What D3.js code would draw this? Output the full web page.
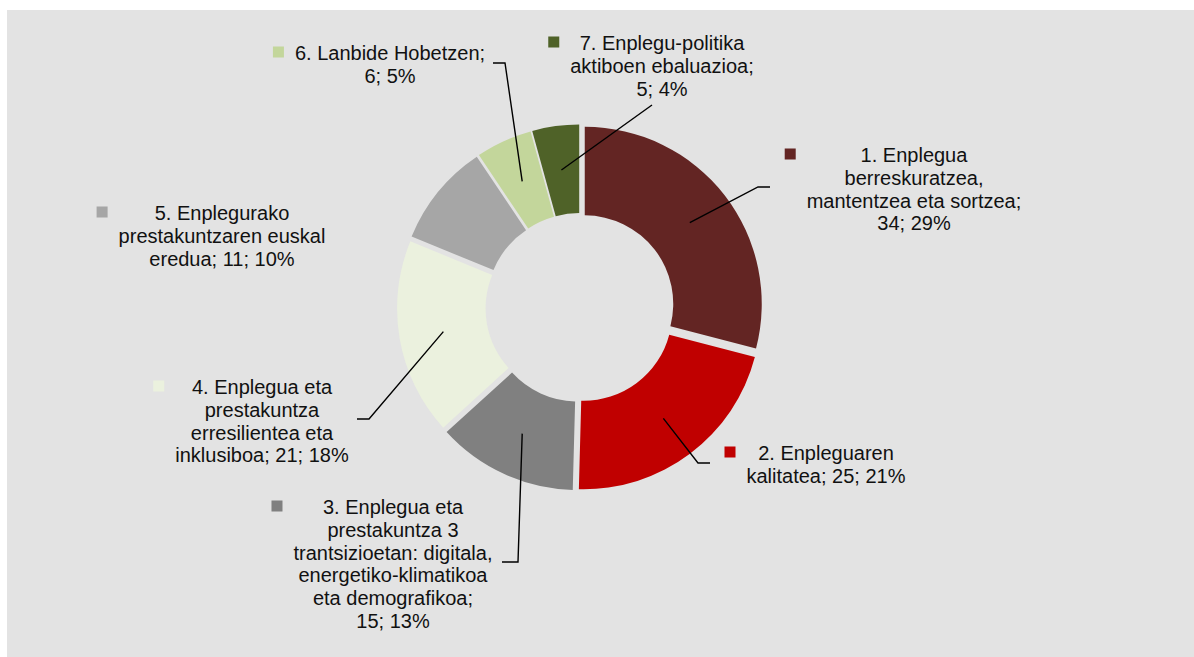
<!DOCTYPE html>
<html>
<head>
<meta charset="utf-8">
<script src="https://cdn.jsdelivr.net/npm/d3@7"></script>
<style>
  html, body { margin: 0; padding: 0; background: #ffffff; }
  svg { display: block; }
  text { font-family: "Liberation Sans", Arial, sans-serif; }
</style>
</head>
<body>
<svg id="chart" width="1194" height="657"></svg>
<script>
// ---- data ----
const categories = [
  "1. Enplegua berreskuratzea, mantentzea eta sortzea",
  "2. Enpleguaren kalitatea",
  "3. Enplegua eta prestakuntza 3 trantsizioetan: digitala, energetiko-klimatikoa eta demografikoa",
  "4. Enplegua eta prestakuntza erresilientea eta inklusiboa",
  "5. Enplegurako prestakuntzaren euskal eredua",
  "6. Lanbide Hobetzen",
  "7. Enplegu-politika aktiboen ebaluazioa"
];
const values = [34, 25, 15, 21, 11, 6, 5];
const percents = [29, 21, 13, 18, 10, 5, 4];
// label text broken into lines as in the reference
const categoryLines = [
  ["1. Enplegua", "berreskuratzea,", "mantentzea eta sortzea"],
  ["2. Enpleguaren", "kalitatea"],
  ["3. Enplegua eta", "prestakuntza 3", "trantsizioetan: digitala,", "energetiko-klimatikoa", "eta demografikoa"],
  ["4. Enplegua eta", "prestakuntza", "erresilientea eta", "inklusiboa"],
  ["5. Enplegurako", "prestakuntzaren euskal", "eredua"],
  ["6. Lanbide Hobetzen"],
  ["7. Enplegu-politika", "aktiboen ebaluazioa"]
];
const valueOnNewLine = [true, false, true, false, false, true, true];
const colors = ["#632523", "#c00000", "#808080", "#ebf1de", "#a6a6a6", "#c3d69b", "#4f6228"];

// ---- layout ----
const cx = 580, cy = 307.5, R = 177, r = 88.5, explode = 6;
const fontSize = 20, lineH = 22.8;
const labelPos = [
  {x: 914, y: 155, elbow: [758, 187], end: [770, 187]},
  {x: 826, y: 453, elbow: [698, 463], end: [710, 463]},
  {x: 393, y: 507, elbow: [518, 562], end: [502, 562]},
  {x: 262, y: 387, elbow: [369, 419], end: [357, 419]},
  {x: 222, y: 213, elbow: null, end: null},
  {x: 390, y: 53,  elbow: [505, 63], end: [493, 63]},
  {x: 662, y: 43,  elbow: null, end: [652, 105]}
];

const svg = d3.select("#chart");
svg.append("rect").attr("x", 7).attr("y", 10).attr("width", 1194 - 7).attr("height", 657 - 10).attr("fill", "#e3e3e3");

const color = d3.scaleOrdinal().domain(categories).range(colors);
const pie = d3.pie().sort(null).value(d => d.value);
const data = categories.map((c, i) => ({cat: c, value: values[i], pct: percents[i], i}));
const arcs = pie(data);
const arc = d3.arc().innerRadius(r).outerRadius(R);

const g = svg.append("g").attr("transform", `translate(${cx},${cy})`);
arcs.forEach(a => {
  const mid = (a.startAngle + a.endAngle) / 2;
  a.dx = Math.sin(mid) * explode;
  a.dy = -Math.cos(mid) * explode;
});
g.selectAll("path.slice").data(arcs).join("path")
  .attr("class", "slice")
  .attr("d", arc)
  .attr("transform", d => `translate(${d.dx},${d.dy})`)
  .attr("fill", d => color(d.data.cat));

// leader lines
arcs.forEach(a => {
  const p = labelPos[a.data.i];
  if (!p.end) return;
  const c = arc.centroid(a);
  const start = [cx + c[0] + a.dx, cy + c[1] + a.dy];
  const pts = [start];
  if (p.elbow) pts.push(p.elbow);
  pts.push(p.end);
  svg.append("path")
    .attr("d", d3.line()(pts))
    .attr("fill", "none")
    .attr("stroke", "#000")
    .attr("stroke-width", 1.4);
});

// labels
arcs.forEach(a => {
  const i = a.data.i;
  const p = labelPos[i];
  const lines = categoryLines[i].slice();
  lines[lines.length - 1] += ";";
  const vp = `${a.data.value}; ${a.data.pct}%`;
  if (valueOnNewLine[i]) lines.push(vp); else lines[lines.length - 1] += " " + vp;
  const t = svg.append("text")
    .attr("text-anchor", "middle")
    .attr("font-size", fontSize)
    .attr("fill", "#111");
  lines.forEach((ln, k) => {
    t.append("tspan").attr("x", p.x).attr("y", p.y + k * lineH + 7).text(ln);
  });
  let maxW = 0;
  t.selectAll("tspan").each(function() { maxW = Math.max(maxW, this.getComputedTextLength()); });
  const left = p.x - maxW / 2;
  svg.append("rect")
    .attr("x", left - 22).attr("y", p.y - 6.5)
    .attr("width", 11).attr("height", 11)
    .attr("fill", color(a.data.cat));
});
</script>
</body>
</html>
